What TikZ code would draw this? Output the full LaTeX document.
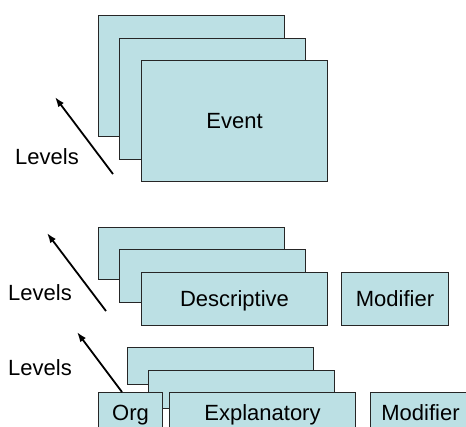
\documentclass[tikz,border=0pt]{standalone}
\usepackage{fontspec}
\setmainfont{Liberation Sans}
\usepackage{xcolor}
\usepackage{tikz}
\usetikzlibrary{arrows.meta}
\definecolor{boxfill}{HTML}{BCE0E4}

\begin{document}
\begin{tikzpicture}[x=1pt,y=-1pt,
  every node/.style={font=\fontsize{22pt}{26pt}\selectfont, inner sep=0pt},
  card/.style={rectangle, draw=black!85, line width=1pt, fill=boxfill, anchor=north west, minimum width=186pt, text height=15.8pt, text depth=0pt},
  lvl/.style={-{Latex[length=10pt,width=7pt]}, line width=1.8pt}]
% Frame
\path[use as bounding box, clip] (0,0) rectangle (466,426);
% Event
\node[card, minimum height=121pt] (e1) at (98,15) {};
\node[card, minimum height=121pt] (e2) at (119,38) {};
\node[card, minimum height=121pt] (e3) at (141,60) {Event};
% Descriptive
\node[card, minimum height=52pt] (d1) at (98,227) {};
\node[card, minimum height=53pt] (d2) at (119,249) {};
\node[card, minimum height=53pt] (d3) at (141,272) {Descriptive};
\node[card, minimum width=107pt, minimum height=53pt] (m1) at (341,272) {Modifier};
% Explanatory
\node[card, minimum height=37pt] (x1) at (127,347) {};
\node[card, minimum height=38pt] (x2) at (148,370) {};
\node[card, minimum width=64pt, minimum height=40pt] (org) at (98,392) {Org};
\node[card, minimum height=40pt] (x3) at (169,392) {Explanatory};
\node[card, minimum width=100pt, minimum height=40pt] (m2) at (370,392) {Modifier};
% Levels
\node (l1) at (47,157) {Levels};
\node (l2) at (40,293) {Levels};
\node (l3) at (40,368) {Levels};
\coordinate (a1) at (113,174);
\coordinate (b1) at (55,97);
\coordinate (a2) at (106,311);
\coordinate (b2) at (47,233);
\coordinate (a3) at (122,392);
\coordinate (b3) at (77,332);
\draw[lvl] (a1) -- (b1);
\draw[lvl] (a2) -- (b2);
\draw[lvl] (a3) -- (b3);
\end{tikzpicture}
\end{document}
